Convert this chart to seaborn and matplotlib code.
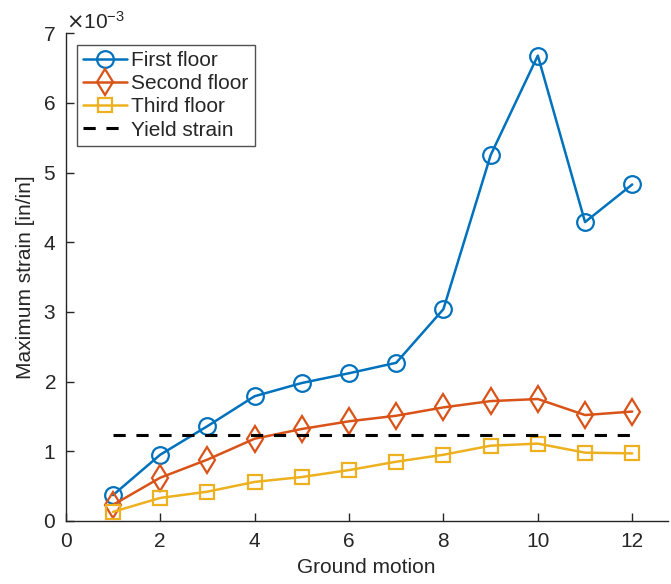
import matplotlib
matplotlib.use("Agg")
import matplotlib.pyplot as plt
import matplotlib.ticker as mticker
import seaborn as sns
import pandas as pd

ground_motion = [1, 2, 3, 4, 5, 6, 7, 8, 9, 10, 11, 12]
first_floor = [0.37, 0.95, 1.36, 1.79, 1.98, 2.12, 2.27, 3.04, 5.25, 6.68, 4.29, 4.83]
second_floor = [0.23, 0.62, 0.88, 1.18, 1.32, 1.43, 1.51, 1.63, 1.72, 1.75, 1.52, 1.57]
third_floor = [0.13, 0.33, 0.42, 0.56, 0.63, 0.73, 0.85, 0.95, 1.08, 1.11, 0.98, 0.97]
yield_strain = 1.24
scale = 1e-3

sns.set_style("ticks")
plt.rcParams['font.family'] = ['Liberation Sans', 'DejaVu Sans']

fig = plt.figure(figsize=(6.71, 5.84), dpi=100)
ax = fig.add_axes([0.098, 0.108, 0.897, 0.835])

series = [
    ("First floor", first_floor, "#0072BD", "o", 12),
    ("Second floor", second_floor, "#D95319", "d", 13.5),
    ("Third floor", third_floor, "#EDB120", "s", 10),
]
for name, vals, col, mk, ms in series:
    df = pd.DataFrame({"x": ground_motion, "y": [v * scale for v in vals]})
    sns.lineplot(data=df, x="x", y="y", ax=ax, color=col, marker=mk, markersize=ms,
                 markerfacecolor="none", markeredgecolor=col, markeredgewidth=1.6,
                 linewidth=1.8, label=name)

ydf = pd.DataFrame({"x": [ground_motion[0], ground_motion[-1]], "y": [yield_strain * scale] * 2})
sns.lineplot(data=ydf, x="x", y="y", ax=ax, color="black", linestyle=(0, (4, 3.5)),
             linewidth=2.2, label="Yield strain")

ax.set_xlim(0, 12.75)
ax.set_ylim(0, 7e-3)
ax.set_xticks([0, 2, 4, 6, 8, 10, 12])
ax.set_yticks([i * 1e-3 for i in range(8)])
fmt = mticker.ScalarFormatter(useMathText=True)
fmt.set_powerlimits((-2, 2))
ax.yaxis.set_major_formatter(fmt)
ax.yaxis.get_offset_text().set_fontsize(15)

ax.set_xlabel("Ground motion", fontsize=15, labelpad=5)
ax.set_ylabel("Maximum strain [in/in]", fontsize=15, labelpad=6)
ax.tick_params(direction="in", length=6, width=1, labelsize=15, colors="#262626")
ax.tick_params(axis="x", pad=8)
ax.tick_params(axis="y", pad=7)
for s in ["top", "right"]:
    ax.spines[s].set_visible(False)
for s in ["left", "bottom"]:
    ax.spines[s].set_color("#262626")
    ax.spines[s].set_linewidth(1)

leg = ax.legend(loc="upper left", bbox_to_anchor=(0.012, 0.985), fontsize=15, frameon=True,
                fancybox=False, edgecolor="#262626", handlelength=2.1, borderpad=0.3,
                labelspacing=0.2, handletextpad=0.2, borderaxespad=0.2)
leg.get_frame().set_linewidth(1)

fig.savefig("out.png", dpi=100)
